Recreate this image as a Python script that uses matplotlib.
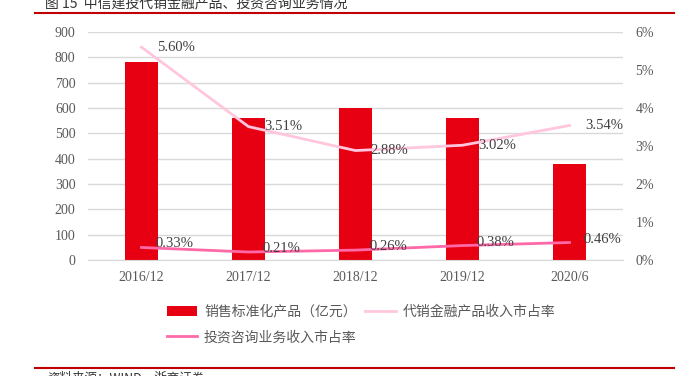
import matplotlib
matplotlib.use('Agg')
import matplotlib.pyplot as plt
from matplotlib.lines import Line2D
import numpy as np

plt.rcParams['font.family'] = ['Liberation Serif', 'Noto Sans CJK SC']

categories = ['2016/12', '2017/12', '2018/12', '2019/12', '2020/6']
sales = [780, 560, 600, 560, 380]              # 销售标准化产品（亿元）
dist_share = [5.60, 3.51, 2.88, 3.02, 3.54]    # 代销金融产品收入市占率 (%)
consult_share = [0.33, 0.21, 0.26, 0.38, 0.46]  # 投资咨询业务收入市占率 (%)

W, H = 682, 376
fig = plt.figure(figsize=(W/100, H/100), dpi=100)
ax = fig.add_axes([88/W, 1-260/H, (623-88)/W, (260-32)/H])

x = np.arange(len(categories))
bars = ax.bar(x, sales, width=0.31, color='#E60012', zorder=2)
ax.set_xlim(-0.5, 4.5)
ax.set_ylim(0, 900)
ax.set_yticks(range(0, 901, 100))
ax.set_xticks(x)
ax.set_xticklabels(categories)
ax.grid(axis='y', color='#D9D9D9', lw=1)
ax.set_axisbelow(True)
for s in ['top', 'right', 'left']:
    ax.spines[s].set_visible(False)
ax.spines['bottom'].set_color('#D9D9D9')
ax.tick_params(axis='y', length=0, labelsize=10, colors='#595959', pad=9)
ax.tick_params(axis='x', length=0, labelsize=10, colors='#595959', pad=8)

ax2 = ax.twinx()
ax2.set_ylim(0, 6)
ax2.set_yticks(range(0, 7))
ax2.yaxis.set_major_formatter(lambda v, p: f'{v:.0f}%')
ax2.tick_params(axis='y', length=0, labelsize=10, colors='#595959', pad=9)
for s in ax2.spines.values():
    s.set_visible(False)

l1, = ax2.plot(x, dist_share, color='#FFC6DD', lw=2)
l2, = ax2.plot(x, consult_share, color='#FF69A8', lw=2)

for xi, v in zip(x, dist_share):
    ax2.annotate(f'{v:.2f}%', (xi, v), xytext=(11, 0), textcoords='offset points',
                 ha='left', va='center', fontsize=10.5, color='#404040')
for xi, v in zip(x, consult_share):
    ax2.annotate(f'{v:.2f}%', (xi, v), xytext=(10, 2.5), textcoords='offset points',
                 ha='left', va='center', fontsize=10.5, color='#404040')

leg = fig.legend([bars, l2, l1],
                 ['销售标准化产品（亿元）', '投资咨询业务收入市占率', '代销金融产品收入市占率'],
                 ncol=2, loc='upper left', bbox_to_anchor=(154/W, 1-292/H),
                 frameon=False, prop={'family': ['Noto Sans CJK SC'], 'size': 10},
                 handlelength=2.2, handletextpad=0.5, columnspacing=0.6, labelspacing=0.85)
for t in leg.get_texts():
    t.set_color('#595959')

# title strip (cut off at top) and source note (cut off at bottom)
fig.text(45/W, 1-10/H, '图 15  中信建投代销金融产品、投资咨询业务情况',
         family=['Noto Sans CJK SC'], fontsize=10, va='bottom', color='#333333')
fig.add_artist(Line2D([35/W, 674/W], [1-13/H, 1-13/H], color='#C00000', lw=1.5))
fig.add_artist(Line2D([35/W, 674/W], [1-368/H, 1-368/H], color='#C00000', lw=1.5))
fig.text(47/W, 1-372/H, '资料来源：WIND，浙商证券',
         family=['Noto Sans CJK SC'], fontsize=9, va='top', color='#333333')

fig.savefig('out.png', dpi=100)
